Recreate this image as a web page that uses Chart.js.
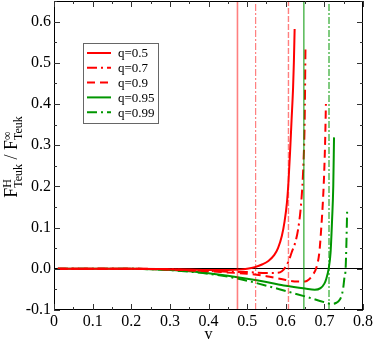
<!DOCTYPE html>
<html>
<head>
<meta charset="utf-8">
<script src="https://cdn.jsdelivr.net/npm/chart.js@4.4.0/dist/chart.umd.min.js"></script>
<style>
  html, body { margin: 0; padding: 0; background: #fff; }
  #wrap { width: 374px; height: 340px; position: relative; }
</style>
</head>
<body>
<div id="wrap"><canvas id="c" width="374" height="340"></canvas></div>
<script>
// ---- data ----
const seriesLabels = ["q=0.5", "q=0.7", "q=0.9", "q=0.95", "q=0.99"];

const vQ05 = [0.01,0.1,0.2,0.3,0.35,0.4,0.45,0.48,0.5,0.52,0.54,0.555,0.57,0.58,0.59,0.597,0.603,0.607,0.611,0.615,0.619,0.621,0.623];
const fQ05 = [0,0,0,-0.001,-0.002,-0.003,-0.003,-0.002,0,0.004,0.011,0.019,0.033,0.05,0.08,0.115,0.16,0.21,0.28,0.36,0.44,0.5,0.582];

const vQ07 = [0.01,0.1,0.2,0.3,0.35,0.4,0.45,0.5,0.55,0.575,0.59,0.6,0.608,0.615,0.625,0.632,0.638,0.643,0.646,0.649,0.651];
const fQ07 = [0,0,0,-0.001,-0.003,-0.005,-0.007,-0.008,-0.01,-0.01,-0.006,0.005,0.02,0.039,0.065,0.096,0.14,0.2,0.26,0.36,0.533];

const vQ09 = [0.01,0.1,0.2,0.3,0.35,0.4,0.45,0.5,0.55,0.6,0.63,0.65,0.66,0.67,0.68,0.687,0.692,0.696,0.699,0.702,0.704];
const fQ09 = [0,0,0,-0.002,-0.004,-0.006,-0.009,-0.012,-0.018,-0.027,-0.031,-0.031,-0.026,-0.015,0.005,0.04,0.1,0.16,0.22,0.31,0.40];

const vQ095 = [0.01,0.1,0.2,0.25,0.3,0.35,0.4,0.45,0.5,0.55,0.6,0.65,0.675,0.69,0.7,0.705,0.711,0.716,0.72,0.723,0.725];
const fQ095 = [0,0,0,-0.001,-0.003,-0.006,-0.011,-0.017,-0.024,-0.032,-0.041,-0.048,-0.051,-0.047,-0.036,-0.024,0,0.039,0.12,0.2,0.319];

const vQ099 = [0.01,0.1,0.2,0.25,0.3,0.35,0.4,0.45,0.5,0.55,0.6,0.65,0.7,0.718,0.73,0.738,0.744,0.749,0.752,0.755,0.757,0.759];
const fQ099 = [0,0,0,-0.001,-0.003,-0.007,-0.012,-0.019,-0.029,-0.041,-0.054,-0.067,-0.081,-0.085,-0.083,-0.077,-0.067,-0.045,-0.02,0,0.06,0.144];

// vertical marker lines (one per q)
const vLines = [0.475, 0.522, 0.607, 0.647, 0.712];

// axis ranges / ticks
const xMin = 0, xMax = 0.8, xStep = 0.1;
const yMin = -0.1, yMax = 0.65, yStep = 0.1;

// ---- styling ----
const RED = "#ff0000", GREEN = "#009600";
const RED_LIGHT = "rgba(255,0,0,0.5)";
const DASHDOT = [10, 4, 2, 4];
const DASHED = [8, 5];
const SERIF = '"Liberation Serif", "DejaVu Serif", serif';

const pts = (xs, ys) => xs.map((x, i) => ({ x: x, y: ys[i] }));

const curveStyles = [
  { color: RED,   dash: [] },
  { color: RED,   dash: DASHDOT },
  { color: RED,   dash: DASHED },
  { color: GREEN, dash: [] },
  { color: GREEN, dash: DASHDOT },
];
const vlineStyles = [
  { color: RED_LIGHT, dash: [], w: 1.6 },
  { color: RED_LIGHT, dash: [7, 2, 2, 2], w: 1.2 },
  { color: RED_LIGHT, dash: [6, 2], w: 1.4 },
  { color: GREEN, dash: [], w: 1 },
  { color: GREEN, dash: [7, 2, 2, 2], w: 1 },
];

const curveData = [pts(vQ05, fQ05), pts(vQ07, fQ07), pts(vQ09, fQ09), pts(vQ095, fQ095), pts(vQ099, fQ099)];

const datasets = [];
vLines.forEach((v, i) => {
  datasets.push({
    label: "_v" + i,
    data: [{ x: v, y: yMin }, { x: v, y: yMax }],
    borderColor: vlineStyles[i].color,
    borderWidth: vlineStyles[i].w,
    borderDash: vlineStyles[i].dash,
    pointRadius: 0, fill: false, tension: 0,
  });
});
curveData.forEach((d, i) => {
  datasets.push({
    label: seriesLabels[i],
    data: d,
    borderColor: curveStyles[i].color,
    borderWidth: 2,
    borderDash: curveStyles[i].dash,
    pointRadius: 0, fill: false, cubicInterpolationMode: "monotone",
  });
});

const decor = {
  id: "decor",
  afterDraw(chart) {
    const ctx = chart.ctx, a = chart.chartArea;
    const xs = chart.scales.x, ys = chart.scales.y;
    ctx.save();
    ctx.strokeStyle = "#000";
    ctx.lineWidth = 1;
    ctx.setLineDash([]);
    // frame
    ctx.strokeRect(Math.round(a.left) + 0.5, Math.round(a.top) + 0.5,
                   Math.round(a.right - a.left) - 1, Math.round(a.bottom - a.top) - 1);
    // inward ticks
    ctx.strokeStyle = "#333";
    ctx.beginPath();
    for (let k = 0; k <= Math.round((xMax - xMin) / (xStep / 2)); k++) {
      const v = xMin + k * xStep / 2;
      const px = Math.round(xs.getPixelForValue(v)) + 0.5;
      const L = (k % 2 === 0) ? 6 : 3;
      ctx.moveTo(px, a.bottom); ctx.lineTo(px, a.bottom - L);
      ctx.moveTo(px, a.top); ctx.lineTo(px, a.top + L);
    }
    for (let k = 0; k <= Math.floor((yMax - yMin) / (yStep / 2) + 1e-9); k++) {
      const v = yMin + k * yStep / 2;
      const py = Math.round(ys.getPixelForValue(v)) + 0.5;
      const L = (k % 2 === 0) ? 6 : 3;
      ctx.moveTo(a.left, py); ctx.lineTo(a.left + L, py);
      ctx.moveTo(a.right, py); ctx.lineTo(a.right - L, py);
    }
    ctx.stroke();

    // legend
    const lx = 83, ly = 43, lw = 75, lh = 80;
    ctx.strokeStyle = "#666";
    ctx.lineWidth = 1;
    ctx.strokeRect(lx + 0.5, ly + 0.5, lw, lh);
    ctx.font = "13px " + SERIF;
    ctx.fillStyle = "#000";
    ctx.textBaseline = "middle";
    ctx.textAlign = "left";
    seriesLabels.forEach((lab, i) => {
      const y = 53 + i * 14.8;
      ctx.strokeStyle = curveStyles[i].color;
      ctx.lineWidth = 2;
      ctx.setLineDash(curveStyles[i].dash);
      ctx.beginPath();
      ctx.moveTo(87, y); ctx.lineTo(111, y);
      ctx.stroke();
      ctx.setLineDash([]);
      ctx.fillText(lab, 118, y + 1);
    });

    // y axis title  F^H_Teuk / F^inf_Teuk
    ctx.translate(17, 157);
    ctx.rotate(-Math.PI / 2);
    ctx.fillStyle = "#000";
    ctx.textBaseline = "alphabetic";
    const big = "18px " + SERIF, small = "12px " + SERIF;
    const parts = [
      { t: "F", sup: "H", sub: "Teuk" },
      { t: " / " },
      { t: "F", sup: "\u221E", sub: "Teuk" },
    ];
    let total = 0;
    parts.forEach(p => {
      ctx.font = big; p.w = ctx.measureText(p.t).width;
      let s = 0;
      if (p.sub) {
        ctx.font = small;
        s = Math.max(ctx.measureText(p.sub).width, ctx.measureText(p.sup).width);
      }
      p.s = s; total += p.w + s;
    });
    let x = -total / 2;
    parts.forEach(p => {
      ctx.font = big; ctx.fillText(p.t, x, 0); x += p.w;
      if (p.sub) {
        ctx.font = small;
        ctx.fillText(p.sup, x, -6);
        ctx.fillText(p.sub, x, 5);
        x += p.s;
      }
    });
    ctx.restore();
  }
};

new Chart(document.getElementById("c"), {
  type: "line",
  data: { datasets },
  options: {
    responsive: false,
    animation: false,
    events: [],
    layout: { padding: { top: 1, right: 11, left: 0, bottom: 0 } },
    plugins: { legend: { display: false }, tooltip: { enabled: false } },
    scales: {
      x: {
        type: "linear", min: xMin, max: xMax,
        afterFit: s => { s.height = 30; s.paddingLeft = 0; s.paddingRight = 0; },
        ticks: { stepSize: xStep, color: "#000", font: { family: SERIF, size: 16 }, padding: 2,
                 callback: v => (Math.abs(v) < 1e-9 ? "0" : v.toFixed(1)) },
        grid: { display: false, drawTicks: false },
        border: { display: false },
        title: { display: true, text: "v", color: "#000", font: { family: SERIF, size: 16 }, padding: { top: 0, bottom: -4 } },
      },
      y: {
        type: "linear", min: yMin, max: yMax,
        afterFit: s => { s.width = 54; s.paddingTop = 0; s.paddingBottom = 0; },
        ticks: { stepSize: yStep, color: "#000", font: { family: SERIF, size: 16 }, padding: 3,
                 callback: v => (v > yMax - 1e-9 ? "" : v.toFixed(1)) },
        grid: { drawTicks: false, lineWidth: 1,
                color: c => (c.tick && Math.abs(c.tick.value) < 1e-9 ? "#000" : "rgba(0,0,0,0)") },
        border: { display: false },
      },
    },
  },
  plugins: [decor],
});
</script>
</body>
</html>
